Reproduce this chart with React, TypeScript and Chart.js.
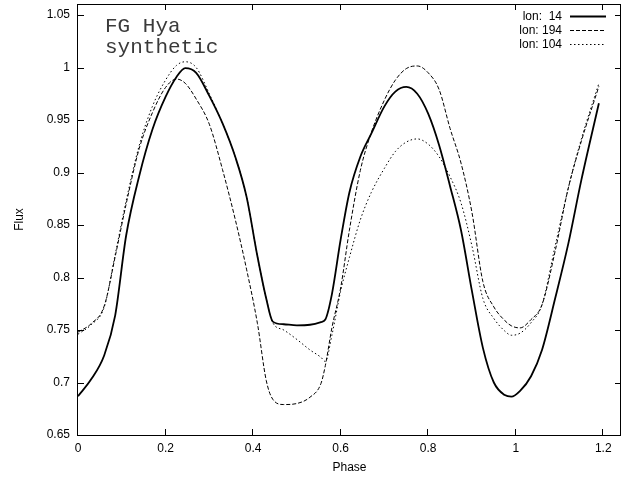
import React, { useEffect, useRef } from "react";
import { Chart, registerables } from "chart.js";

Chart.register(...registerables);

const phase = [0, 0.03, 0.06, 0.085, 0.11, 0.14, 0.17, 0.2, 0.225, 0.245, 0.27, 0.3, 0.33, 0.36, 0.385, 0.41, 0.43, 0.445, 0.47, 0.5, 0.53, 0.555, 0.565, 0.58, 0.6, 0.62, 0.645, 0.67, 0.7, 0.725, 0.75, 0.775, 0.8, 0.825, 0.85, 0.875, 0.9, 0.925, 0.95, 0.975, 0.99, 1.01, 1.035, 1.06, 1.09, 1.12, 1.15, 1.19];

const lon14 = [0.687, 0.703, 0.726, 0.764, 0.84, 0.897, 0.941, 0.972, 0.991, 0.9995, 0.995, 0.973, 0.947, 0.914, 0.877, 0.82, 0.78, 0.758, 0.7555, 0.7545, 0.755, 0.7575, 0.76, 0.784, 0.836, 0.881, 0.915, 0.937, 0.963, 0.977, 0.9815, 0.975, 0.956, 0.926, 0.887, 0.845, 0.787, 0.733, 0.7, 0.688, 0.6865, 0.692, 0.706, 0.731, 0.78, 0.832, 0.893, 0.966];

const lon194 = [0.748, 0.756, 0.773, 0.82, 0.87, 0.923, 0.957, 0.981, 0.989, 0.985, 0.97, 0.946, 0.903, 0.854, 0.808, 0.756, 0.702, 0.684, 0.679, 0.68, 0.686, 0.699, 0.716, 0.752, 0.79, 0.845, 0.902, 0.938, 0.969, 0.988, 0.999, 1.0015, 0.995, 0.979, 0.942, 0.909, 0.862, 0.796, 0.772, 0.759, 0.754, 0.752, 0.76, 0.774, 0.825, 0.885, 0.93, 0.982];

const lon104 = [0.746, 0.755, 0.772, 0.822, 0.873, 0.926, 0.963, 0.988, 1.002, 1.0055, 1.0, 0.975, 0.947, 0.914, 0.877, 0.82, 0.78, 0.757, 0.75, 0.741, 0.731, 0.724, 0.72, 0.745, 0.787, 0.819, 0.855, 0.881, 0.904, 0.92, 0.929, 0.932, 0.927, 0.915, 0.896, 0.871, 0.83, 0.78, 0.761, 0.749, 0.745, 0.747, 0.757, 0.774, 0.83, 0.885, 0.932, 0.985];

const seriesLabels = ["lon:  14", "lon: 194", "lon: 104"];
const annotationLines = ["FG Hya", "synthetic"];
const xTitle = "Phase";
const yTitle = "Flux";

const toPoints = (ys: number[]) => phase.map((p, i) => ({ x: p, y: ys[i] }));
const fmt = (v: any) => String(+Number(v).toFixed(2));

const framePlugin = {
  id: "gnuplotFrame",
  afterDraw(chart: any) {
    const { ctx, chartArea, scales } = chart;
    const { left, right, top, bottom } = chartArea;
    const xs = scales.x;
    const ys = scales.y;
    ctx.save();
    ctx.strokeStyle = "#000";
    ctx.lineWidth = 1;
    ctx.setLineDash([]);
    ctx.strokeRect(left - 0.5, top + 0.5, right - left, bottom - top);
    const tl = 6;
    ctx.beginPath();
    xs.ticks.forEach((t: any) => {
      const px = Math.round(xs.getPixelForValue(t.value)) - 0.5;
      ctx.moveTo(px, bottom);
      ctx.lineTo(px, bottom - tl);
      ctx.moveTo(px, top);
      ctx.lineTo(px, top + tl);
    });
    ys.ticks.forEach((t: any) => {
      const py = Math.round(ys.getPixelForValue(t.value)) + 0.5;
      ctx.moveTo(left, py);
      ctx.lineTo(left + tl, py);
      ctx.moveTo(right, py);
      ctx.lineTo(right - tl, py);
    });
    ctx.stroke();

    // legend
    ctx.font = "12px 'Liberation Sans', Arial, sans-serif";
    ctx.fillStyle = "#000";
    ctx.textAlign = "right";
    ctx.textBaseline = "middle";
    chart.data.datasets.forEach((ds: any, i: number) => {
      const y = 16 + 14 * i;
      ctx.fillText(ds.label, 562, y + 0.5);
      ctx.save();
      ctx.lineWidth = ds.borderWidth;
      ctx.setLineDash(ds.borderDash || []);
      ctx.beginPath();
      ctx.moveTo(570, y + 0.5);
      ctx.lineTo(606, y + 0.5);
      ctx.stroke();
      ctx.restore();
    });

    // annotation
    ctx.font = "21px 'Liberation Mono', 'Courier New', monospace";
    ctx.textAlign = "left";
    ctx.textBaseline = "alphabetic";
    ctx.fillStyle = "#3a3a3a";
    annotationLines.forEach((s, i) => {
      ctx.fillText(s, 105, 32 + 21 * i);
    });
    ctx.restore();
  },
};

export default function App() {
  const ref = useRef<HTMLCanvasElement | null>(null);
  useEffect(() => {
    if (!ref.current) return;
    const chart = new Chart(ref.current, {
      type: "line",
      data: {
        datasets: [
          { label: seriesLabels[0], data: toPoints(lon14), borderColor: "#000", borderWidth: 1.8, borderDash: [], pointRadius: 0, cubicInterpolationMode: "monotone", fill: false },
          { label: seriesLabels[1], data: toPoints(lon194), borderColor: "#000", borderWidth: 1, borderDash: [4, 2], pointRadius: 0, cubicInterpolationMode: "monotone", fill: false },
          { label: seriesLabels[2], data: toPoints(lon104), borderColor: "#000", borderWidth: 1, borderDash: [1.5, 2.5], pointRadius: 0, cubicInterpolationMode: "monotone", fill: false },
        ],
      } as any,
      options: {
        responsive: false,
        animation: false,
        events: [],
        layout: { padding: { left: 0, right: 7, top: 4, bottom: 0 } },
        plugins: { legend: { display: false }, tooltip: { enabled: false }, title: { display: false } },
        scales: {
          x: {
            type: "linear",
            min: 0,
            max: 1.2405,
            grid: { display: false, drawTicks: false },
            border: { display: false },
            ticks: { stepSize: 0.2, includeBounds: false, padding: 6, color: "#000", font: { family: "'Liberation Sans', Arial, sans-serif", size: 12 }, maxRotation: 0, callback: fmt },
            title: { display: true, text: xTitle, color: "#000", font: { family: "'Liberation Sans', Arial, sans-serif", size: 12 }, padding: { top: 0, bottom: 4 } },
            afterFit: (s: any) => { s.height = 44; s.paddingLeft = 0; s.paddingRight = 0; },
          },
          y: {
            type: "linear",
            min: 0.65,
            max: 1.0605,
            grid: { display: false, drawTicks: false },
            border: { display: false },
            ticks: { stepSize: 0.05, includeBounds: false, padding: 8, color: "#000", font: { family: "'Liberation Sans', Arial, sans-serif", size: 12 }, callback: fmt },
            title: { display: true, text: yTitle, color: "#000", font: { family: "'Liberation Sans', Arial, sans-serif", size: 12 }, padding: { top: 12, bottom: 0 } },
            afterFit: (s: any) => { s.width = 78; s.paddingTop = 0; s.paddingBottom = 0; },
          },
        },
      } as any,
      plugins: [framePlugin],
    });
    return () => chart.destroy();
  }, []);
  return (
    <div style={{ position: "absolute", left: 0, top: 0, width: 628, height: 479, background: "#fff" }}>
      <canvas ref={ref} width={628} height={479} style={{ width: 628, height: 479 }} />
    </div>
  );
}
